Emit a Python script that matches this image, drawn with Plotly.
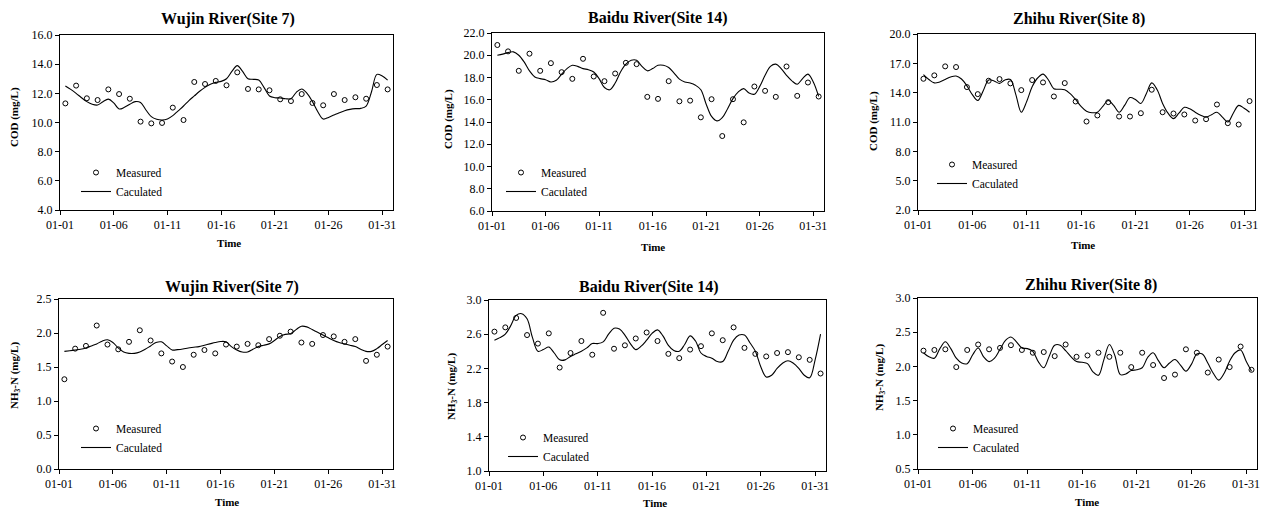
import plotly.graph_objects as go
from datetime import datetime, timedelta

FONT = "Liberation Serif"
# The page shows the figure with an 8px body margin, so the figure is drawn
# 8px smaller and all pixel positions below are given in window pixels.
OFF = 8
W, H = 1269 - OFF, 510 - OFF

titles = ["Wujin River(Site 7)", "Baidu River(Site 14)", "Zhihu River(Site 8)",
          "Wujin River(Site 7)", "Baidu River(Site 14)", "Zhihu River(Site 8)"]
ylabels = ["COD (mg/L)", "COD (mg/L)", "COD (mg/L)",
           "NH<sub>3</sub>-N (mg/L)", "NH<sub>3</sub>-N (mg/L)", "NH<sub>3</sub>-N (mg/L)"]
xlabel = "Time"
legend_names = ["Measured", "Caculated"]

# y-axis ranges and tick steps
y_ranges = [(4, 16), (6, 22), (2, 20), (0, 2.5), (1.0, 3.0), (0.5, 3.0)]
y_dticks = [2, 2, 3, 0.5, 0.4, 0.5]

# Measured values (daily, at noon, 01-01 .. 01-31)
wujin_cod_meas = [11.31, 12.53, 11.66, 11.54, 12.27, 11.95, 11.63, 10.06, 9.94, 9.97,
                  11.02, 10.17, 12.78, 12.64, 12.85, 12.55, 13.44, 12.30, 12.27, 12.21,
                  11.59, 11.47, 11.95, 11.34, 11.18, 11.95, 11.54, 11.73, 11.63, 12.57, 12.27]
baidu_cod_meas = [20.92, 20.35, 18.6, 20.14, 18.6, 19.29, 18.48, 17.88, 19.68, 18.09,
                  17.67, 18.36, 19.32, 19.2, 16.26, 16.08, 17.67, 15.86, 15.92, 14.42,
                  16.05, 12.74, 16.05, 13.97, 17.19, 16.8, 16.26, 18.99, 16.35, 17.55, 16.29]
zhihu_cod_meas = [15.42, 15.77, 16.69, 16.62, 14.57, 13.85, 15.22, 15.39, 14.95, 14.26,
                  15.29, 15.05, 13.61, 14.98, 13.1, 11.05, 11.67, 13.03, 11.56, 11.56,
                  11.9, 14.3, 12.0, 11.87, 11.77, 11.15, 11.29, 12.79, 10.88, 10.74, 13.14]
wujin_nh3_meas = [1.32, 1.77, 1.81, 2.11, 1.83, 1.76, 1.87, 2.04, 1.89, 1.70,
                  1.58, 1.50, 1.68, 1.75, 1.70, 1.83, 1.80, 1.84, 1.82, 1.91,
                  1.96, 2.02, 1.86, 1.84, 1.97, 1.95, 1.87, 1.91, 1.59, 1.68, 1.80]
baidu_nh3_meas = [2.63, 2.68, 2.79, 2.59, 2.49, 2.61, 2.21, 2.38, 2.52, 2.36,
                  2.85, 2.43, 2.47, 2.55, 2.62, 2.52, 2.37, 2.32, 2.42, 2.46,
                  2.61, 2.53, 2.68, 2.44, 2.37, 2.34, 2.38, 2.39, 2.33, 2.30, 2.14]
zhihu_nh3_meas = [2.23, 2.24, 2.25, 1.99, 2.24, 2.32, 2.25, 2.27, 2.31, 2.24,
                  2.20, 2.21, 2.15, 2.32, 2.14, 2.16, 2.20, 2.14, 2.20, 1.99,
                  2.20, 2.02, 1.83, 1.88, 2.25, 2.20, 1.91, 2.10, 1.99, 2.29, 1.95]

# Calculated values (every 12 h, 01-01 12:00 .. 01-31 12:00)
wujin_cod_calc = [12.50, 12.27, 12.0, 11.7, 11.43, 11.25, 11.2, 11.43, 11.6, 11.35,
                  10.93, 11.04, 11.25, 11.43, 11.37, 10.86, 10.4, 10.22, 10.17, 10.24,
                  10.47, 10.8, 11.13, 11.5, 11.82, 12.14, 12.41, 12.62, 12.75, 12.82,
                  13.0, 13.5, 13.9, 13.5, 13.0, 12.96, 12.91, 12.39, 11.82, 11.7,
                  11.68, 11.63, 11.63, 12.07, 12.3, 12.0, 11.43, 10.74, 10.24, 10.35,
                  10.51, 10.67, 10.81, 10.9, 10.95, 10.97, 11.13, 12.11, 13.3, 13.19, 12.91]
baidu_cod_calc = [20.0, 20.1, 20.25, 20.3, 20.0, 19.4, 18.6, 18.05, 17.9, 17.8,
                  17.6, 17.75, 18.3, 18.8, 19.1, 19.0, 18.8, 18.7, 18.5, 17.9,
                  17.1, 16.9, 17.5, 18.5, 19.2, 19.55, 19.55, 19.0, 18.6, 18.8,
                  19.1, 19.1, 18.9, 18.4, 17.85, 17.6, 17.5, 17.3, 16.9, 15.6,
                  14.5, 14.1, 14.4, 15.2, 16.1, 16.7, 17.0, 16.6, 16.5, 17.2,
                  18.2, 19.0, 19.2, 18.8, 18.2, 17.7, 17.4, 17.9, 18.3, 17.6, 16.3]
zhihu_cod_calc = [15.85, 15.35, 15.0, 15.1, 15.35, 15.6, 15.7, 15.4, 14.7, 13.8,
                  13.2, 14.2, 15.3, 15.2, 14.95, 15.3, 15.35, 13.8, 12.0, 13.1,
                  14.6, 15.5, 15.9, 15.3, 14.4, 14.35, 14.3, 13.9, 13.3, 12.6,
                  12.1, 11.95, 12.0, 12.6, 13.2, 12.7, 12.0, 12.7, 13.5, 13.3,
                  12.9, 13.9, 15.0, 14.3, 12.9, 11.9, 11.35, 11.9, 12.5, 12.35,
                  12.0, 11.7, 11.5, 11.75, 12.0, 11.5, 11.0, 11.9, 12.7, 12.4, 12.0]
wujin_nh3_calc = [1.73, 1.74, 1.75, 1.76, 1.78, 1.81, 1.84, 1.88, 1.90, 1.86,
                  1.78, 1.72, 1.70, 1.70, 1.72, 1.76, 1.81, 1.86, 1.87, 1.81,
                  1.75, 1.755, 1.765, 1.78, 1.79, 1.80, 1.82, 1.84, 1.86, 1.875,
                  1.87, 1.80, 1.75, 1.72, 1.72, 1.76, 1.80, 1.82, 1.84, 1.89,
                  1.95, 1.98, 1.99, 2.05, 2.10, 2.09, 2.05, 2.01, 1.97, 1.93,
                  1.89, 1.86, 1.84, 1.82, 1.80, 1.76, 1.73, 1.73, 1.77, 1.83, 1.89]
baidu_nh3_calc = [2.53, 2.56, 2.60, 2.70, 2.82, 2.84, 2.78, 2.56, 2.40, 2.42,
                  2.45, 2.38, 2.30, 2.30, 2.34, 2.37, 2.40, 2.44, 2.49, 2.49,
                  2.51, 2.60, 2.67, 2.66, 2.59, 2.49, 2.42, 2.46, 2.53, 2.61,
                  2.65, 2.58, 2.47, 2.41, 2.40, 2.48, 2.58, 2.52, 2.38, 2.34,
                  2.32, 2.28, 2.28, 2.40, 2.53, 2.59, 2.59, 2.50, 2.40, 2.22,
                  2.10, 2.12, 2.20, 2.26, 2.29, 2.26, 2.20, 2.12, 2.09, 2.30, 2.60]
zhihu_nh3_calc = [2.20, 2.14, 2.12, 2.26, 2.36, 2.26, 2.12, 2.05, 2.04, 2.17,
                  2.27, 2.14, 2.07, 2.12, 2.25, 2.38, 2.43, 2.36, 2.27, 2.26,
                  2.22, 2.07, 1.98, 2.15, 2.31, 2.31, 2.23, 2.14, 2.07, 2.06,
                  2.04, 1.92, 1.87, 2.10, 2.32, 2.16, 1.88, 1.89, 1.94, 1.95,
                  1.98, 2.13, 2.20, 2.08, 1.98, 2.05, 2.10, 2.02, 1.93, 2.03,
                  2.18, 2.18, 2.05, 1.90, 1.80, 1.90, 2.08, 2.20, 2.24, 2.08, 1.93]

measured = [wujin_cod_meas, baidu_cod_meas, zhihu_cod_meas,
            wujin_nh3_meas, baidu_nh3_meas, zhihu_nh3_meas]
calculated = [wujin_cod_calc, baidu_cod_calc, zhihu_cod_calc,
              wujin_nh3_calc, baidu_nh3_calc, zhihu_nh3_calc]

# ---- layout (window pixel boxes of each plot area: left, right, top, bottom) ----
boxes = [(60, 393, 35, 210), (492, 824, 33, 211), (918, 1255, 34, 210),
         (59, 393, 299, 469), (489, 826, 300, 471), (918, 1257, 298, 469)]
title_pos = [(228, 19), (658, 18), (1079, 19), (232, 287), (649, 287), (1091, 285)]
xlab_pos = [(229, 243), (653, 247), (1083, 245), (227, 502), (655, 503), (1087, 502)]
ylab_pos = [(14, 117), (448, 119), (873, 121), (15, 376), (452, 387), (880, 378)]
legend_marker = [(98, 173), (523, 173), (954, 165), (98, 429), (525, 438), (955, 429)]


def px(x):
    return (x - OFF) / W


def py(y):
    return 1 - (y - OFF) / H


start = datetime(2020, 1, 1, 12)
day_x = [(start + timedelta(days=i)).strftime("%Y-%m-%d %H:%M") for i in range(31)]

fig = go.Figure()
annotations = []
layout = {}
for i in range(6):
    n = i + 1
    sfx = "" if n == 1 else str(n)
    lg = "legend" if n == 1 else f"legend{n}"
    calc = calculated[i]
    calc_x = [(start + timedelta(hours=12 * k)).strftime("%Y-%m-%d %H:%M") for k in range(len(calc))]
    fig.add_trace(go.Scatter(
        x=day_x, y=measured[i], mode="markers", name=legend_names[0],
        marker=dict(symbol="circle-open", size=5, color="black", line=dict(width=1, color="black")),
        xaxis=f"x{sfx}", yaxis=f"y{sfx}", legend=lg, showlegend=True))
    fig.add_trace(go.Scatter(
        x=calc_x, y=calc, mode="lines", name=legend_names[1],
        line=dict(color="black", width=1.1, shape="spline", smoothing=1.0),
        xaxis=f"x{sfx}", yaxis=f"y{sfx}", legend=lg, showlegend=True))

    l, r, t, b = boxes[i]
    axis_common = dict(showline=True, mirror=True, linecolor="black", linewidth=1,
                       ticks="outside", ticklen=4, tickcolor="black", tickwidth=1,
                       showgrid=False, zeroline=False, automargin=False,
                       tickfont=dict(family=FONT, size=12, color="black"))
    layout[f"xaxis{sfx}"] = dict(axis_common, domain=[px(l), px(r)], anchor=f"y{sfx}",
                                 type="date", range=["2020-01-01", "2020-02-01"],
                                 tick0="2020-01-01", dtick=5 * 86400000, tickformat="%m-%d")
    y0, y1 = y_ranges[i]
    layout[f"yaxis{sfx}"] = dict(axis_common, domain=[py(b), py(t)], anchor=f"x{sfx}",
                                 range=[y0, y1], tick0=y0, dtick=y_dticks[i], tickformat=".1f")
    mx, my = legend_marker[i]
    layout[lg] = dict(x=px(mx - 22), y=py(my - 15), xanchor="left", yanchor="top",
                      bgcolor="rgba(0,0,0,0)", borderwidth=0, tracegroupgap=0,
                      font=dict(family=FONT, size=11.5, color="black"))

    tx, ty = title_pos[i]
    annotations.append(dict(text=f"<b>{titles[i]}</b>", x=px(tx), y=py(ty), xref="paper", yref="paper",
                            xanchor="center", yanchor="middle", showarrow=False,
                            font=dict(family=FONT, size=16, color="black")))
    ax_, ay_ = xlab_pos[i]
    annotations.append(dict(text=f"<b>{xlabel}</b>", x=px(ax_), y=py(ay_), xref="paper", yref="paper",
                            xanchor="center", yanchor="middle", showarrow=False,
                            font=dict(family=FONT, size=11, color="black")))
    bx, by = ylab_pos[i]
    annotations.append(dict(text=f"<b>{ylabels[i]}</b>", x=px(bx), y=py(by), xref="paper", yref="paper",
                            xanchor="center", yanchor="middle", showarrow=False, textangle=-90,
                            font=dict(family=FONT, size=11, color="black")))

fig.update_layout(width=W, height=H, margin=dict(l=0, r=0, t=0, b=0, autoexpand=False),
                  paper_bgcolor="white", plot_bgcolor="white",
                  font=dict(family=FONT, color="black"),
                  annotations=annotations, **layout)
fig.write_html("out.html")
